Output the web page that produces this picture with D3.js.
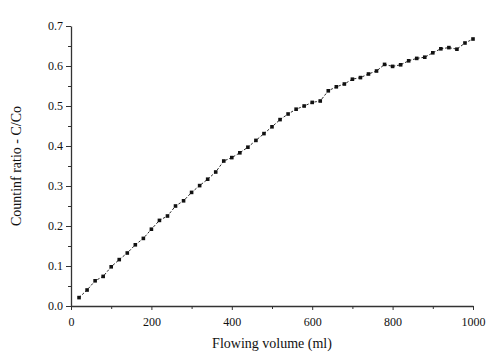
<!DOCTYPE html>
<html><head><meta charset="utf-8">
<script src="https://cdn.jsdelivr.net/npm/d3@7"></script>
<style>body{margin:0;background:#fff}svg{display:block}svg text{font-family:"Liberation Serif","Times New Roman",serif}</style>
</head><body>
<script>
const volumes = [20,40,60,80,100,120,140,160,180,200,220,240,260,280,300,320,340,360,380,400,
  420,440,460,480,500,520,540,560,580,600,620,640,660,680,700,720,740,760,780,800,
  820,840,860,880,900,920,940,960,980,1000];
const ratios = [0.021,0.040,0.063,0.074,0.098,0.116,0.1325,0.153,0.169,0.192,
  0.214,0.225,0.250,0.263,0.284,0.301,0.317,0.335,0.3625,0.371,
  0.383,0.397,0.414,0.431,0.448,0.466,0.480,0.492,0.500,0.509,
  0.5125,0.538,0.548,0.555,0.567,0.571,0.580,0.5875,0.604,0.599,
  0.603,0.613,0.619,0.622,0.633,0.643,0.646,0.642,0.6575,0.6675];
const xTicks = [0,200,400,600,800,1000];
const yTicks = [0,0.1,0.2,0.3,0.4,0.5,0.6,0.7];
const xMinor = [100,300,500,700,900];
const yMinor = [0.05,0.15,0.25,0.35,0.45,0.55,0.65];

const W=501,H=358;
const svg=d3.select("body").append("svg").attr("width",W).attr("height",H);
const x=d3.scaleLinear().domain([0,1000]).range([71,473]);
const y=d3.scaleLinear().domain([0,0.7]).range([306,26]);
const font="'Liberation Serif', 'Times New Roman', serif";

const gx=svg.append("g").attr("transform","translate(0,306)")
  .call(d3.axisBottom(x).tickValues(xTicks).tickFormat(d3.format("d")).tickSize(4).tickSizeOuter(0));
svg.append("g").attr("transform","translate(0,306)")
  .call(d3.axisBottom(x).tickValues(xMinor).tickFormat("").tickSize(3).tickSizeOuter(0))
  .select(".domain").remove();
const gy=svg.append("g").attr("transform","translate(71,0)")
  .call(d3.axisLeft(y).tickValues(yTicks).tickFormat(d3.format(".1f")).tickSize(5).tickSizeOuter(0));
svg.append("g").attr("transform","translate(71,0)")
  .call(d3.axisLeft(y).tickValues(yMinor).tickFormat("").tickSize(3).tickSizeOuter(0))
  .select(".domain").remove();
svg.selectAll("g").attr("font-family",font);
svg.selectAll(".tick text").style("font-family",font).attr("font-size",12).attr("fill","#111");
gx.selectAll(".tick text").attr("dy","1.1em");
svg.selectAll(".domain").attr("stroke","#333").attr("stroke-width",1.3);
svg.selectAll(".tick line").attr("stroke","#333");

const pts=volumes.map((v,i)=>[v,ratios[i]]);
svg.append("path").datum(pts)
  .attr("d",d3.line().x(d=>x(d[0])).y(d=>y(d[1])))
  .attr("fill","none").attr("stroke","#111").attr("stroke-width",0.9).attr("stroke-dasharray","2.5,1.8");
svg.append("g").selectAll("rect").data(pts).join("rect")
  .attr("x",d=>x(d[0])-1.8).attr("y",d=>y(d[1])-1.8).attr("width",3.6).attr("height",3.6).attr("fill","#111");

svg.append("text").attr("x",272).attr("y",348).attr("text-anchor","middle")
  .style("font-family",font).attr("font-size",14).attr("fill","#111").text("Flowing volume (ml)");
svg.append("text").attr("transform","translate(21,166) rotate(-90)").attr("text-anchor","middle")
  .style("font-family",font).attr("font-size",14).attr("fill","#111").text("Countinf ratio - C/Co");
</script>
</body></html>
